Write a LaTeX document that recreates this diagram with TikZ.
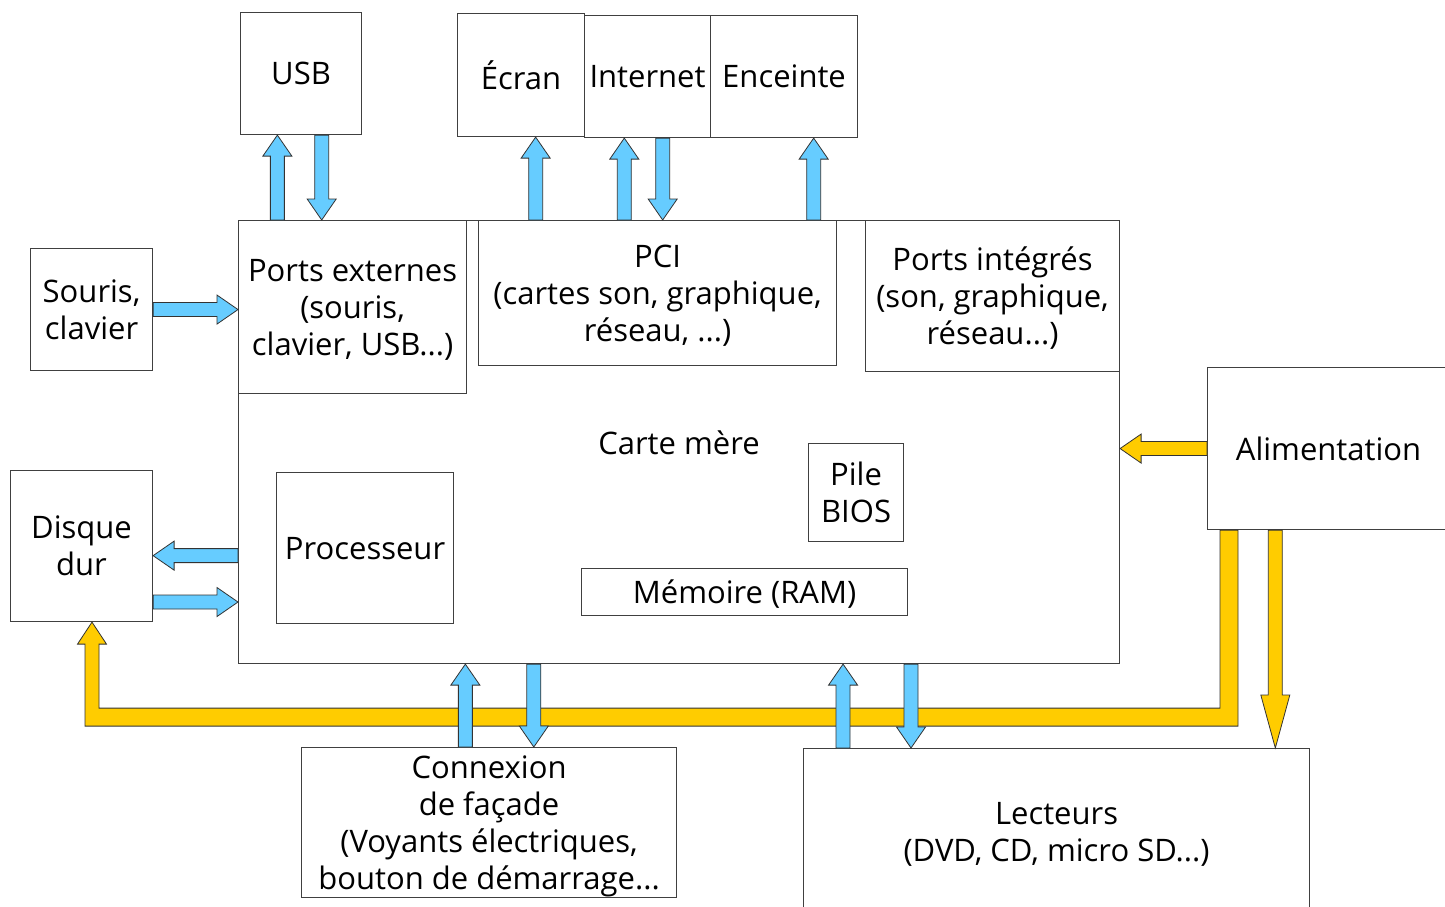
\documentclass[tikz,border=0pt]{standalone}
\usepackage{fontspec}
\setmainfont{Open Sans}
\usetikzlibrary{calc}
\definecolor{bleu}{HTML}{66CCFF}
\definecolor{jaune}{HTML}{FFCC00}
\newcommand\blocarr[4]{%
\path (#2) coordinate (ba1) (#3) coordinate (ba2) ($(ba2)!#4!(ba1)$) coordinate (ba3);
\filldraw[#1] ($(ba1)!7pt!90:(ba2)$) -- ($(ba3)!7pt!90:(ba2)$) -- ($(ba3)!14.5pt!90:(ba2)$) -- (ba2)
 -- ($(ba3)!14.5pt!-90:(ba2)$) -- ($(ba3)!7pt!-90:(ba2)$) -- ($(ba1)!7pt!-90:(ba2)$) -- cycle;}
\begin{document}
\begin{tikzpicture}[x=1pt,y=-1pt,font=\fontsize{31}{37}\selectfont,
 box/.style={draw=black!75,line width=1.1pt,fill=white,align=center,inner sep=0pt,text depth=0pt,anchor=north west},
 wh/.style 2 args={minimum width=#1pt,minimum height=#2pt},
 bleuarr/.style={fill=bleu,draw=black!80,line width=0.8pt},
 jaunearr/.style={fill=jaune,draw=black!80,line width=0.8pt}]
\useasboundingbox (0,0) rectangle (1445,906);
\clip (0,0) rectangle (1445,906);
\node[box,wh={881}{443}] (mb) at (238,220) {};
\node (cm) at (679,443) {Carte mère};
\node[box,wh={228}{173}] (pe) at (238,220) {Ports externes\\(souris,\\clavier, USB...)};
\node[box,wh={358}{145}] (pci) at (478,220) {PCI\\(cartes son, graphique,\\réseau, ...)};
\node[box,wh={254}{151}] (pi) at (865,220) {Ports intégrés\\(son, graphique,\\réseau...)};
\node[box,wh={177}{151}] (proc) at (276,472) {Processeur};
\node[box,wh={95}{98}] (pile) at (808,443) {Pile\\BIOS};
\node[box,wh={326}{47}] (ram) at (581,568) {Mémoire (RAM)};
\node[box,wh={121}{122}] (usb) at (240,12) {USB};
\node[box,wh={127}{123}] (ecran) at (457,13) {Écran};
\node[box,wh={126}{122}] (internet) at (584,15) {Internet};
\node[box,wh={147}{122}] (enceinte) at (710,15) {Enceinte};
\node[box,wh={122}{122}] (souris) at (30,248) {Souris,\\clavier};
\node[box,wh={142}{151}] (dd) at (10,470) {Disque\\dur};
\node[box,wh={242}{162}] (alim) at (1207,367) {Alimentation};
\node[box,wh={375}{150}] (facade) at (301,747) {Connexion\\de façade\\(Voyants électriques,\\bouton de démarrage...};
\node[box,wh={506}{166}] (lect) at (803,748) {Lecteurs\\(DVD, CD, micro SD...)};
\coordinate (busr) at ($(alim.south west)+(22,0)$);
\coordinate (busk) at ($(busr)+(0,187)$);
\coordinate (busl) at ($(dd.south west)+(82,0)$);
\coordinate (busj) at (busl |- busk);
\filldraw[jaunearr] ($(busr)+(-9,0)$) -- ($(busr)+(9,0)$) -- ($(busk)+(9,9)$) -- ($(busj)+(-7,9)$)
 -- ($(busl)+(-7,22)$) -- ($(busl)+(-14.5,22)$) -- (busl) -- ($(busl)+(14.5,22)$) -- ($(busl)+(7,22)$)
 -- ($(busj)+(7,-9)$) -- ($(busk)+(-9,-9)$) -- cycle;
\blocarr{jaunearr}{alim.west}{alim.west -| mb.east}{21pt}
\coordinate (a1) at ($(alim.south west)!.281!(alim.south east)$);
\blocarr{jaunearr}{a1}{a1 |- lect.north}{53pt}
\coordinate (u1) at ($(usb.south west)!.306!(usb.south east)$);
\coordinate (u2) at ($(usb.south west)!.669!(usb.south east)$);
\coordinate (e1) at ($(ecran.south west)!.614!(ecran.south east)$);
\coordinate (i1) at ($(internet.south west)!.317!(internet.south east)$);
\coordinate (i2) at ($(internet.south west)!.619!(internet.south east)$);
\coordinate (c1) at ($(enceinte.south west)!.70!(enceinte.south east)$);
\coordinate (d1) at ($(dd.north east)!.563!(dd.south east)$);
\coordinate (d2) at ($(dd.north east)!.868!(dd.south east)$);
\coordinate (f1) at ($(facade.north west)!.437!(facade.north east)$);
\coordinate (f2) at ($(facade.north west)!.619!(facade.north east)$);
\coordinate (l1) at ($(lect.north west)!.079!(lect.north east)$);
\coordinate (l2) at ($(lect.north west)!.213!(lect.north east)$);
\blocarr{bleuarr}{u1 |- pe.north}{u1}{21pt}
\blocarr{bleuarr}{u2}{u2 |- pe.north}{21pt}
\blocarr{bleuarr}{e1 |- pci.north}{e1}{21pt}
\blocarr{bleuarr}{i1 |- pci.north}{i1}{21pt}
\blocarr{bleuarr}{i2}{i2 |- pci.north}{21pt}
\blocarr{bleuarr}{c1 |- pci.north}{c1}{21pt}
\blocarr{bleuarr}{souris.east}{souris.east -| pe.west}{21pt}
\blocarr{bleuarr}{d1 -| mb.west}{d1}{21pt}
\blocarr{bleuarr}{d2}{d2 -| mb.west}{21pt}
\blocarr{bleuarr}{f1}{f1 |- mb.south}{21pt}
\blocarr{bleuarr}{f2 |- mb.south}{f2}{21pt}
\blocarr{bleuarr}{l1}{l1 |- mb.south}{21pt}
\blocarr{bleuarr}{l2 |- mb.south}{l2}{21pt}
\end{tikzpicture}
\end{document}
